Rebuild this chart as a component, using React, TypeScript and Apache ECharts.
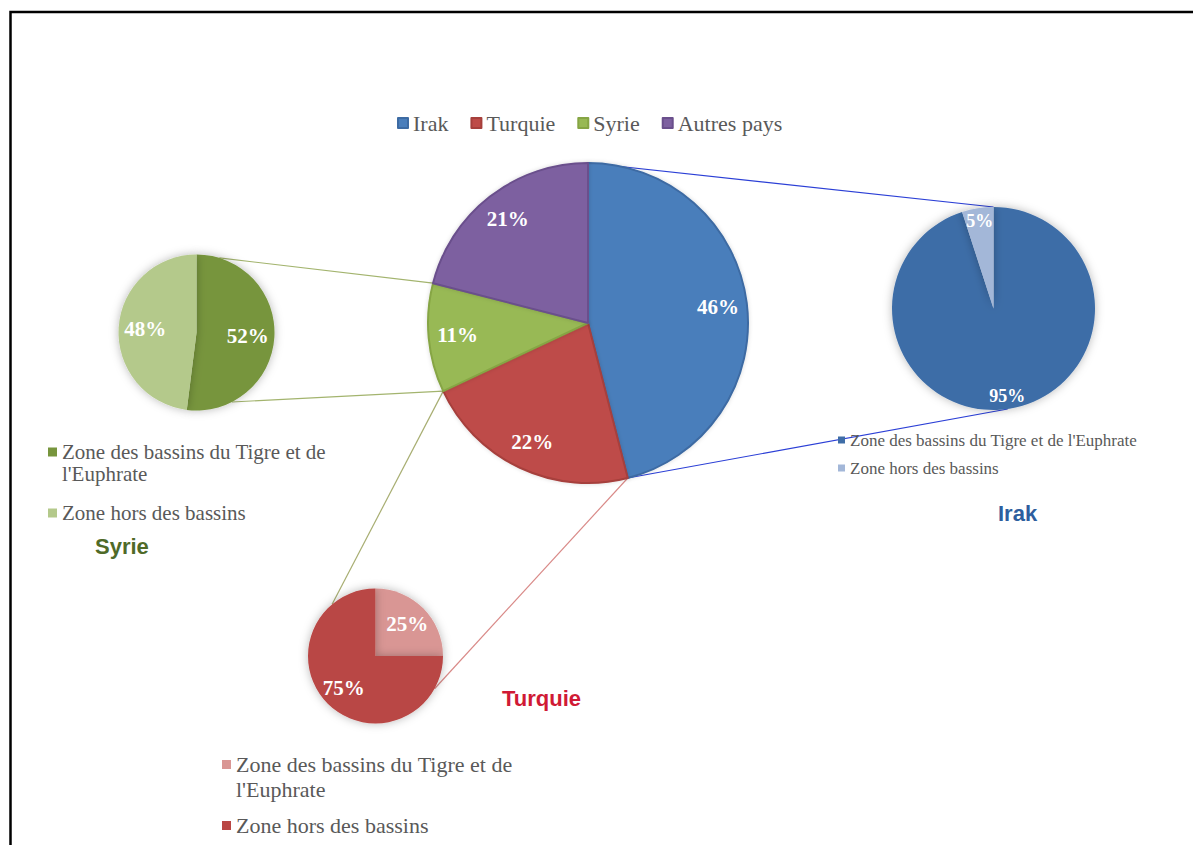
import React, { useEffect, useRef } from 'react';
import * as echarts from 'echarts';

// ---- Data ----
const countries = ['Irak', 'Turquie', 'Syrie', 'Autres pays'];
const countryShares = [46, 22, 11, 21];
const countryColors = ['#4A7EBB', '#BE4B48', '#98B954', '#7D60A0'];
const countryBorders = ['#3D6BA3', '#A63F3C', '#86A544', '#6A4F8C'];

const zoneLabels = ["Zone des bassins du Tigre et de l'Euphrate", 'Zone hors des bassins'];
const irakZones = [95, 5];
const irakColors = ['#3E6DA7', '#A3B7D8'];
const syrieZones = [52, 48];
const syrieColors = ['#77953D', '#B4C98B'];
const turquieZones = [25, 75];
const turquieColors = ['#D99694', '#B94644'];

const titles = ['Syrie', 'Irak', 'Turquie'];
const titleColors = ['#4F6A28', '#2E5E9E', '#D01A35'];

const SERIF = "'Liberation Serif', 'Times New Roman', serif";
const SANS = "'Liberation Sans', Arial, sans-serif";

// geometry (layout only)
const MAIN = { c: [588, 323], r: 160 };
const SYR = { c: [196.5, 332.5], r: 78 };
const IRK = { c: [993.5, 308.5], r: 101.5 };
const TUR = { c: [375.5, 656], r: 67.5 };

function pt(p: { c: number[]; r: number }, deg: number) {
  const a = (deg * Math.PI) / 180;
  return [p.c[0] + p.r * Math.cos(a), p.c[1] - p.r * Math.sin(a)];
}

function wrap(text: string, max: number) {
  if (text.length <= max) return text;
  const cut = text.lastIndexOf(' ', max);
  // leading empty line keeps the first line level with the legend icon
  return '\n' + text.slice(0, cut) + '\n' + text.slice(cut + 1);
}

function makePie(
  key: string,
  names: string[],
  values: number[],
  colors: string[],
  borders: string[] | null,
  geo: { c: number[]; r: number },
  labelFrac: number,
  fontSize: number,
  shadow: boolean
) {
  const data = names.map((n, i) => ({
    name: key + '|' + n,
    value: values[i],
    itemStyle: {
      color: colors[i],
      borderColor: borders ? borders[i] : colors[i],
      borderWidth: borders ? 2 : 0,
    },
  }));
  const base = {
    type: 'pie',
    id: key + '-base',
    center: geo.c,
    radius: geo.r,
    startAngle: 90,
    clockwise: true,
    avoidLabelOverlap: false,
    label: { show: false },
    labelLine: { show: false },
    emphasis: { disabled: true },
    itemStyle: shadow
      ? { shadowBlur: 10, shadowColor: 'rgba(0,0,0,0.28)' }
      : { shadowBlur: 4, shadowColor: 'rgba(0,0,0,0.15)' },
    data,
  };
  const labels = {
    type: 'pie',
    id: key + '-labels',
    center: geo.c,
    radius: [geo.r * (2 * labelFrac - 1), geo.r],
    startAngle: 90,
    clockwise: true,
    silent: true,
    avoidLabelOverlap: false,
    legendHoverLink: false,
    emphasis: { disabled: true },
    itemStyle: { color: 'rgba(0,0,0,0)', borderWidth: 0 },
    label: {
      show: true,
      position: 'inside',
      formatter: '{c}%',
      color: '#FFFFFF',
      fontWeight: 'bold',
      fontSize,
      fontFamily: SERIF,
    },
    labelLine: { show: false },
    data: names.map((n, i) => ({ name: key + '|' + n, value: values[i] })),
  };
  return [base, labels];
}

function zoneLegend(
  key: string,
  left: number,
  top: number,
  fontSize: number,
  lineH: number,
  gap: number,
  icon: number,
  wrapAt: number
) {
  const ts = { fontFamily: SERIF, fontSize, color: '#595959', lineHeight: lineH };
  return {
    orient: 'vertical',
    left,
    top,
    padding: 0,
    itemGap: gap,
    itemWidth: icon,
    itemHeight: icon,
    icon: 'rect',
    selectedMode: false,
    formatter: (name: string) => wrap(name.split('|')[1], wrapAt),
    textStyle: ts,
    data: zoneLabels.map((z) => ({ name: key + '|' + z, textStyle: ts })),
  };
}

export default function App() {
  const ref = useRef<HTMLDivElement>(null);
  useEffect(() => {
    if (!ref.current) return;
    const chart = echarts.init(ref.current, null, { renderer: 'svg' });

    // angles derived from the shares
    const total = countryShares.reduce((a, b) => a + b, 0);
    const cum: number[] = [0];
    countryShares.forEach((v, i) => cum.push(cum[i] + v));
    const ang = (k: number) => 90 - (360 * cum[k]) / total;
    const irakStart = ang(0);
    const irakEnd = ang(1);
    const turEnd = ang(2);
    const syrEnd = ang(3);

    const lines: [number[], number[], string][] = [
      [pt(MAIN, irakStart), pt(IRK, 90), '#2B3FD6'],
      [pt(MAIN, irakEnd), pt(IRK, -82), '#2B3FD6'],
      [pt(MAIN, syrEnd), pt(SYR, 73), '#A3B46E'],
      [pt(MAIN, turEnd), pt(SYR, -63), '#A3B46E'],
      [pt(MAIN, turEnd), pt(TUR, 130), '#A8AE72'],
      [pt(MAIN, irakEnd), pt(TUR, -29), '#D98A88'],
    ];

    const series = [
      ...makePie('Monde', countries, countryShares, countryColors, countryBorders, MAIN, 0.8, 21, false),
      ...makePie('Syrie', zoneLabels, syrieZones, syrieColors, null, SYR, 0.62, 21, true),
      ...makePie('Irak', zoneLabels, irakZones, irakColors, null, IRK, 0.84, 18, true),
      ...makePie('Turquie', zoneLabels, turquieZones, turquieColors, null, TUR, 0.62, 21, true),
    ];

    const topTs = { fontFamily: SERIF, fontSize: 22, color: '#595959' };

    chart.setOption({
      animation: false,
      backgroundColor: '#FFFFFF',
      textStyle: { fontFamily: SERIF },
      title: [
        { text: titles[0], left: 95, top: 535, padding: 0, textStyle: { fontFamily: SANS, fontWeight: 'bold', fontSize: 22, color: titleColors[0] } },
        { text: titles[1], left: 998, top: 502, padding: 0, textStyle: { fontFamily: SANS, fontWeight: 'bold', fontSize: 22, color: titleColors[1] } },
        { text: titles[2], left: 502, top: 687, padding: 0, textStyle: { fontFamily: SANS, fontWeight: 'bold', fontSize: 22, color: titleColors[2] } },
      ],
      legend: [
        {
          orient: 'horizontal',
          left: 397,
          top: 112,
          padding: 0,
          itemGap: 22,
          itemWidth: 10,
          itemHeight: 10,
          icon: 'rect',
          selectedMode: false,
          formatter: (name: string) => name.split('|')[1],
          textStyle: topTs,
          data: countries.map((c) => ({ name: 'Monde|' + c, textStyle: topTs })),
        },
        zoneLegend('Syrie', 48, 419, 21, 22, 17, 9, 32),
        zoneLegend('Irak', 838, 431, 17, 18, 10, 7, 60),
        zoneLegend('Turquie', 222, 727, 22, 25, 11, 9, 32),
      ],
      graphic: [
        {
          type: 'rect',
          z: -10,
          shape: { x: 10.5, y: 12, width: 1250, height: 900 },
          style: { fill: 'none', stroke: '#000000', lineWidth: 2.5 },
          silent: true,
        },
        ...lines.map(([a, b, col]) => ({
          type: 'line',
          z: -5,
          silent: true,
          shape: { x1: a[0], y1: a[1], x2: b[0], y2: b[1] },
          style: { stroke: col, lineWidth: 1.2 },
        })),
      ],
      series,
    });
    return () => chart.dispose();
  }, []);
  return (
    <div
      ref={ref}
      style={{ position: 'absolute', left: 0, top: 0, width: 1193, height: 845 }}
    />
  );
}
